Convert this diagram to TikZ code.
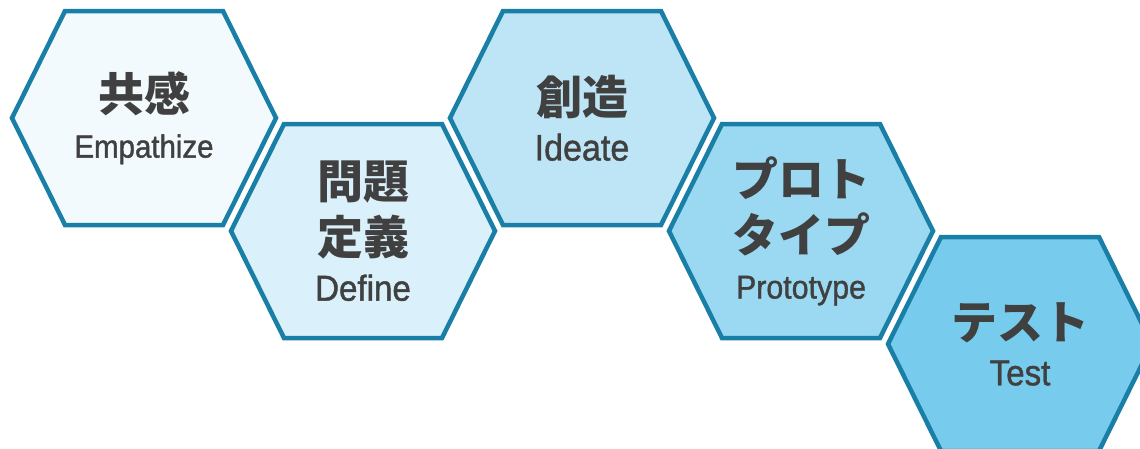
\documentclass[tikz,border=0pt]{standalone}
\usepackage{fontspec}
\newfontfamily\jpfont{Noto Sans CJK JP}
\newfontfamily\enfont{Liberation Sans}[FakeStretch=0.92,FakeBold=1.2]
\usetikzlibrary{positioning,backgrounds}
\definecolor{hexline}{HTML}{1A7FA6}
\definecolor{hexA}{HTML}{F2FAFE}
\definecolor{hexB}{HTML}{DAF0FA}
\definecolor{hexC}{HTML}{BEE5F6}
\definecolor{hexD}{HTML}{9AD9F1}
\definecolor{hexE}{HTML}{77CCEE}
\definecolor{hextext}{HTML}{404040}
\newcommand{\enlabel}[2]{{\enfont\mdseries\fontsize{#1}{#1}\selectfont #2}}
\tikzset{
  hexcell/.style={inner sep=0pt, align=center, text=hextext,
    font=\jpfont\bfseries\fontsize{46}{56}\selectfont},
  hexborder/.style={draw=hexline, line width=4.5pt, fill=#1}
}

\begin{document}
\begin{tikzpicture}[x=1pt,y=-1pt,node distance=113pt and 219pt,on grid]
\useasboundingbox (0,0) rectangle (1140,448);
\clip (0,0) rectangle (1140,448);
%%Place the hexagons
\node[hexcell] (empathize) at (144,118) {共感\\[-10pt]\enlabel{32}{Empathize}};
\node[hexcell] (define) [below right=of empathize] {問題\\定義\\[-10pt]\enlabel{36}{Define}};
\node[hexcell] (ideate) [above right=of define] {創造\\[-10pt]\enlabel{37}{Ideate}};
\node[hexcell] (prototype) [below right=of ideate] {プロト\\タイプ\\[-10pt]\enlabel{33}{Prototype}};
\node[hexcell] (test) [below right=of prototype] {テスト\\[-10pt]\enlabel{36}{Test}};
%%Draw the hexagon borders behind the text
\begin{scope}[on background layer]
\foreach \cell/\shade in {empathize/hexA,define/hexB,ideate/hexC,prototype/hexD,test/hexE}
  \draw[hexborder=\shade, shift={(\cell.center)}]
    (-132,0) -- (-79,-107) -- (79,-107) -- (132,0) -- (79,107) -- (-79,107) -- cycle;
\end{scope}
\end{tikzpicture}
\end{document}
